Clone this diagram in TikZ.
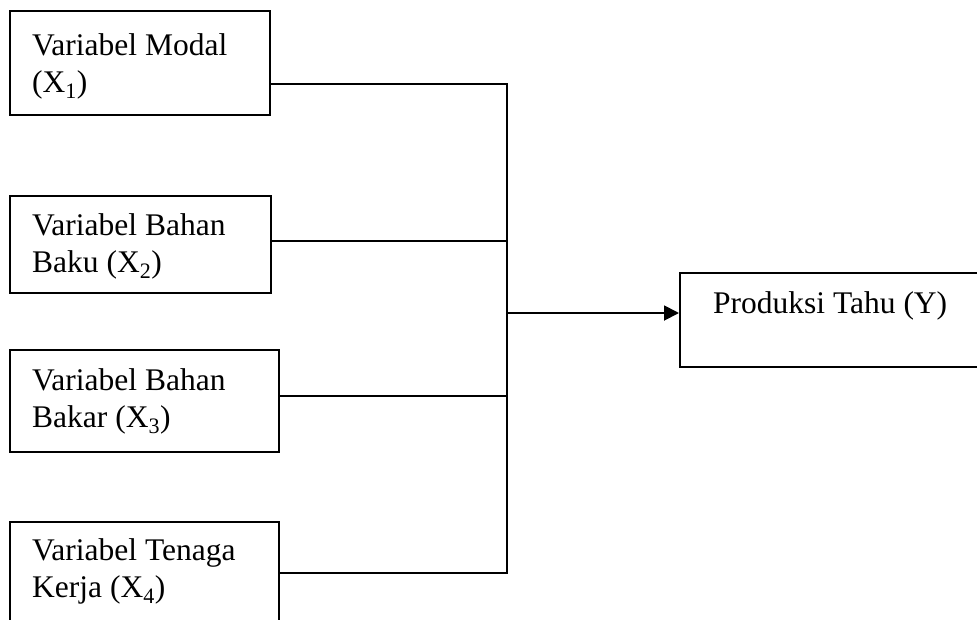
\documentclass[tikz,border=0pt]{standalone}
\usepackage{fontspec}
\setmainfont{Liberation Serif}
\usetikzlibrary{arrows.meta}
\begin{document}
\begin{tikzpicture}[x=1pt,y=-1pt,
  box/.style={draw, line width=1.9pt, inner sep=0pt, anchor=north west},
  lbl/.style={inner sep=0pt, anchor=north west, align=left, font=\fontsize{31.5}{37}\selectfont},
  wire/.style={line width=1.9pt},
  arr/.style={line width=1.9pt, -{Triangle[length=15pt,width=15pt]}}]
\useasboundingbox (0,0) rectangle (977,619);
\clip (0,0) rectangle (977,619);
\fill[white] (0,0) rectangle (977,619);
% boxes
\node[box, minimum width=260pt, minimum height=104pt] (b1) at (9,10) {};
\node[box, minimum width=261pt, minimum height=97pt] (b2) at (9,195) {};
\node[box, minimum width=269pt, minimum height=102pt] (b3) at (9,349) {};
\node[box, minimum width=269pt, minimum height=104pt] (b4) at (9,521) {};
\node[box, minimum width=320pt, minimum height=94pt] (y) at (679,272) {};
% labels
\node[lbl] (t1) at (32,33.5) {Variabel Modal\\(X\textsubscript{1})};
\node[lbl] (t2) at (32,213.5) {Variabel Bahan\\Baku (X\textsubscript{2})};
\node[lbl] (t3) at (32,368.5) {Variabel Bahan\\Bakar (X\textsubscript{3})};
\node[lbl] (t4) at (32,538.5) {Variabel Tenaga\\Kerja (X\textsubscript{4})};
\node[lbl] (ty) at (713,291.5) {Produksi Tahu (Y)};
% junctions
\coordinate (j1) at (507,84);
\coordinate (j2) at (507,241);
\coordinate (j3) at (507,396);
\coordinate (j4) at (507,573);
\coordinate (jy) at (507,313);
% connectors
\draw[wire] (b1.east |- j1) -- (j1) -- (j4) -- (b4.east |- j4);
\draw[wire] (b2.east |- j2) -- (j2);
\draw[wire] (b3.east |- j3) -- (j3);
\draw[arr] (jy) -- (y.west |- jy);
\end{tikzpicture}
\end{document}
